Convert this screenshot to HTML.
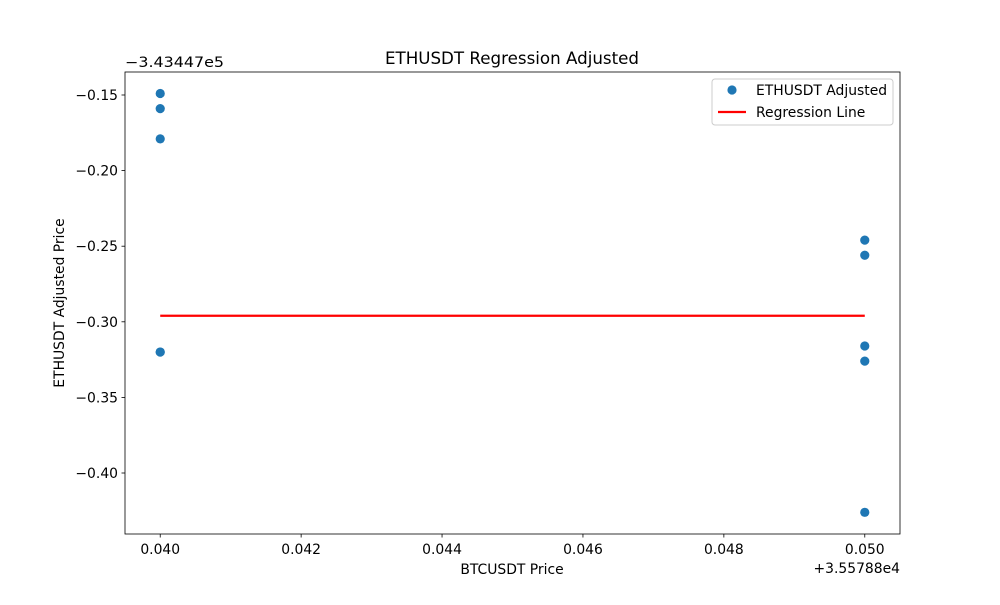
<!DOCTYPE html>
<html><head><meta charset="utf-8"><style>
body{margin:0;background:#fff;font-family:"Liberation Sans","DejaVu Sans",sans-serif}
svg text{font-family:"DejaVu Sans","Liberation Sans",sans-serif;fill:#000}
</style></head><body>
<svg id="c" width="1000" height="600" xmlns="http://www.w3.org/2000/svg"></svg>
<script>
const xs = [0.040,0.040,0.040,0.040,0.040,0.050,0.050,0.050,0.050,0.050];
const ys = [-0.149,-0.159,-0.179,-0.320,-0.320,-0.246,-0.256,-0.316,-0.326,-0.426];
const regX = [0.040,0.050];
const regY = [-0.296,-0.296];
const xTicks = [0.040,0.042,0.044,0.046,0.048,0.050];
const yTicks = [-0.15,-0.20,-0.25,-0.30,-0.35,-0.40];

const L=125,R=900,T=72,B=534;
const x0=0.0395,x1=0.0505,y0=-0.44034,y1=-0.13479;
const sx=v=>L+(v-x0)/(x1-x0)*(R-L);
const sy=v=>B-(v-y0)/(y1-y0)*(B-T);
const svg=document.getElementById('c');
const NS='http://www.w3.org/2000/svg';
function mk(tag,attrs,name,txt){const e=document.createElementNS(NS,tag);for(const k in attrs)e.setAttribute(k,attrs[k]);


if(txt!==undefined)e.textContent=txt;svg.appendChild(e);return e;}

mk('rect',{x:L,y:T,width:R-L,height:B-T,fill:'#fff',stroke:'none'},'plot-area');
xTicks.forEach(v=>{const x=sx(v);mk('line',{x1:x,x2:x,y1:B,y2:B+3.5,stroke:'#000','stroke-width':0.8},'x-tick');
mk('text',{x:x,y:B+20,'text-anchor':'middle','font-size':13.9},'x-tick-label',v.toFixed(3));});
yTicks.forEach(v=>{const y=sy(v);mk('line',{x1:L-3.5,x2:L,y1:y,y2:y,stroke:'#000','stroke-width':0.8},'y-tick');
mk('text',{x:L-7,y:y+5,'text-anchor':'end','font-size':13.9},'y-tick-label',(v<0?'\u2212':'')+Math.abs(v).toFixed(2));});
xs.forEach((v,i)=>mk('circle',{cx:sx(v),cy:sy(ys[i]),r:4.6,fill:'#1f77b4'},'data-point'));
mk('line',{x1:sx(regX[0]),x2:sx(regX[1]),y1:sy(regY[0]),y2:sy(regY[1]),stroke:'#ff0000','stroke-width':2.2},'regression-line');
mk('rect',{x:L,y:T,width:R-L,height:B-T,fill:'none',stroke:'#000','stroke-width':0.8},'axes-frame');
mk('text',{x:512,y:64,'text-anchor':'middle','font-size':16.7},'chart-title','ETHUSDT Regression Adjusted');
mk('text',{x:512,y:574,'text-anchor':'middle','font-size':13.9},'x-axis-title','BTCUSDT Price');
mk('text',{x:64,y:303,'text-anchor':'middle','font-size':13.9,transform:'rotate(-90 64 303)'},'y-axis-title','ETHUSDT Adjusted Price');
mk('text',{x:125,y:67,'font-size':13.9,textLength:99,lengthAdjust:'spacingAndGlyphs'},'y-offset-label','\u22123.43447e5');
mk('text',{x:900,y:573,'text-anchor':'end','font-size':13.9},'x-offset-label','+3.55788e4');
mk('rect',{x:712,y:79,width:181,height:46,rx:3,fill:'#fff','fill-opacity':0.8,stroke:'#ccc','stroke-width':1},'legend');
mk('circle',{cx:732,cy:90,r:4.6,fill:'#1f77b4'},'legend-marker-scatter');
mk('text',{x:756,y:95,'font-size':13.9},'legend-label-scatter','ETHUSDT Adjusted');
mk('line',{x1:718,x2:746,y1:112,y2:112,stroke:'#ff0000','stroke-width':2.2},'legend-marker-line');
mk('text',{x:756,y:117,'font-size':13.9},'legend-label-line','Regression Line');
</script>
</body></html>
